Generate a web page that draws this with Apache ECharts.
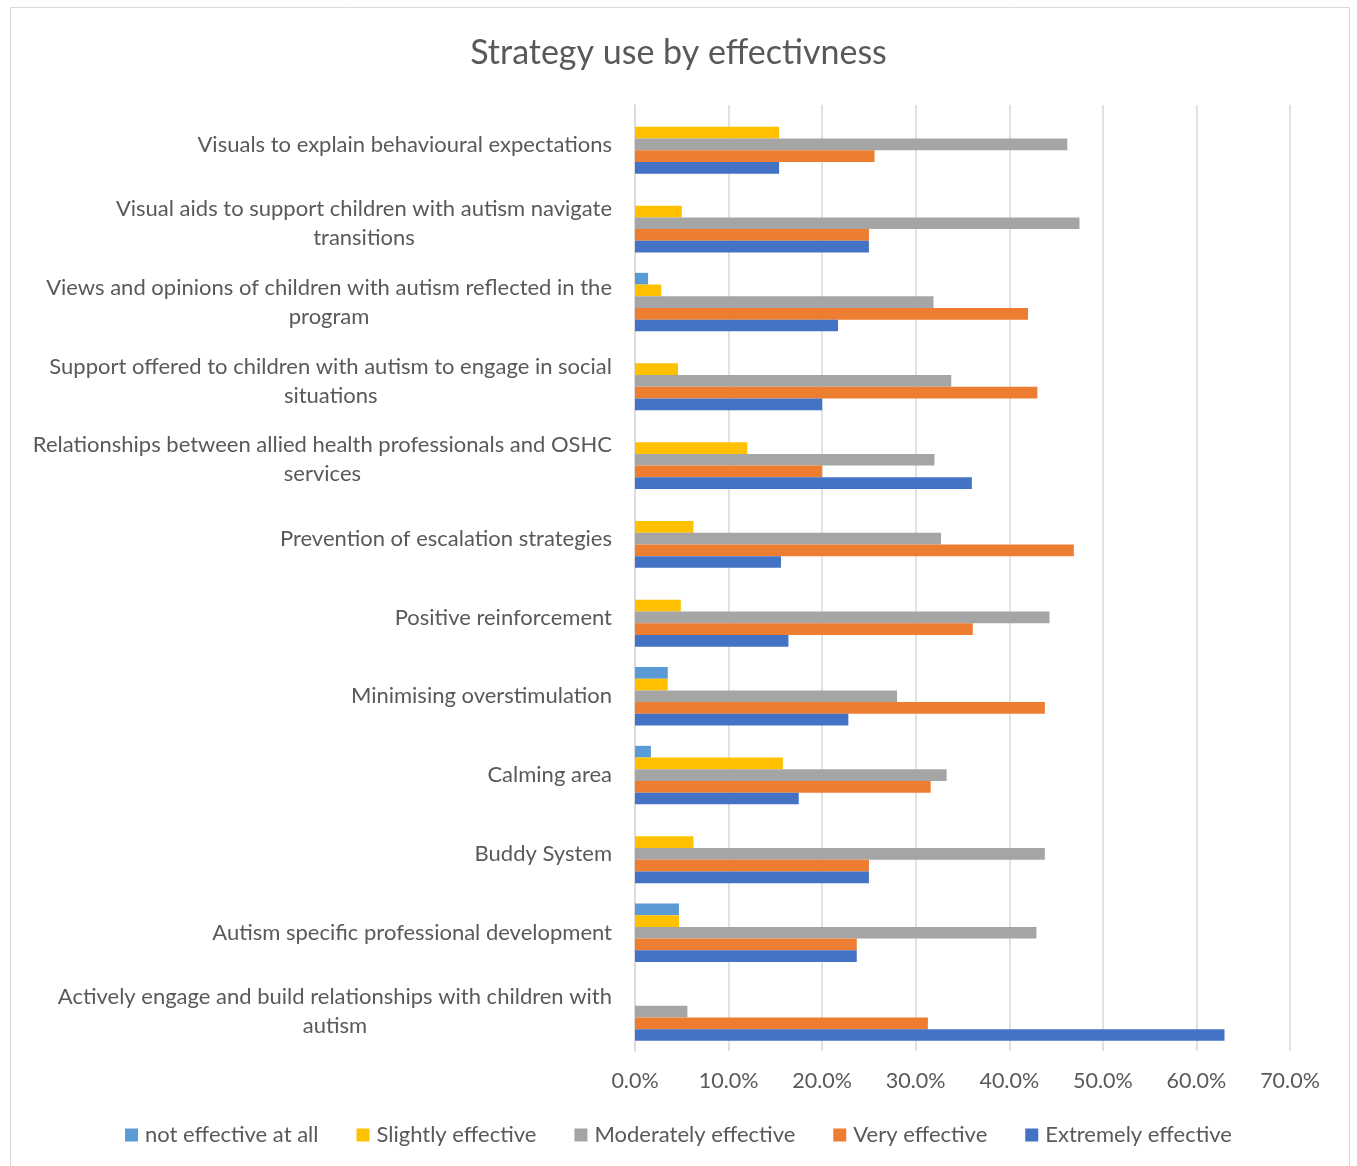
<!DOCTYPE html>
<html>
<head>
<meta charset="utf-8">
<script src="https://cdn.jsdelivr.net/npm/echarts@6/dist/echarts.min.js"></script>
<style>
html,body{margin:0;padding:0;background:#fff;}
#chart{width:1357px;height:1166px;}
</style>
</head>
<body>
<div id="chart"></div>
<script>
const categories = [
  "Visuals to explain behavioural expectations",
  "Visual aids to support children with autism navigate\ntransitions",
  "Views and opinions of children with autism reflected in the\nprogram",
  "Support offered to children with autism to engage in social\nsituations",
  "Relationships between allied health professionals and OSHC\nservices",
  "Prevention of escalation strategies",
  "Positive reinforcement",
  "Minimising overstimulation",
  "Calming area",
  "Buddy System",
  "Autism specific professional development",
  "Actively engage and build relationships with children with\nautism"
];
const seriesNames = ["not effective at all", "Slightly effective", "Moderately effective", "Very effective", "Extremely effective"];
const notEffective = [0, 0, 1.4, 0, 0, 0, 0, 3.5, 1.7, 0, 4.7, 0];
const slightlyEffective = [15.4, 5.0, 2.8, 4.6, 12.0, 6.25, 4.9, 3.5, 15.8, 6.25, 4.7, 0];
const moderatelyEffective = [46.2, 47.5, 31.9, 33.8, 32.0, 32.7, 44.3, 28.0, 33.3, 43.8, 42.9, 5.6];
const veryEffective = [25.6, 25.0, 42.0, 43.0, 20.0, 46.9, 36.1, 43.8, 31.6, 25.0, 23.7, 31.3];
const extremelyEffective = [15.4, 25.0, 21.7, 20.0, 36.0, 15.6, 16.4, 22.8, 17.5, 25.0, 23.7, 63.0];
const xTicks = [0, 10, 20, 30, 40, 50, 60, 70];

const colors = ["#5B9BD5", "#FFC000", "#A5A5A5", "#ED7D31", "#4472C4"];
const values = [notEffective, slightlyEffective, moderatelyEffective, veryEffective, extremelyEffective];
const FONT = "Lato, 'Open Sans', sans-serif";
const TXT = "#595959";

const chart = echarts.init(document.getElementById('chart'));
chart.setOption({
  animation: false,
  color: colors,
  textStyle: {fontFamily: FONT},
  title: {
    text: "Strategy use by effectivness",
    left: 'center',
    top: 31,
    textStyle: {fontFamily: FONT, fontSize: 34, fontWeight: 'normal', color: TXT}
  },
  legend: {
    data: seriesNames,
    top: 1119,
    left: 'center',
    icon: 'rect',
    itemWidth: 13,
    itemHeight: 13,
    itemGap: 38,
    textStyle: {fontFamily: FONT, fontSize: 22, color: TXT, padding: [0,0,0,2]}
  },
  grid: {left: 635, right: 67, top: 105, bottom: 115, containLabel: false},
  xAxis: {
    type: 'value',
    min: xTicks[0],
    max: xTicks[xTicks.length - 1],
    interval: 10,
    axisLine: {show: false},
    axisTick: {show: false},
    splitLine: {lineStyle: {color: '#d9d9d9', width: 1.5}},
    axisLabel: {
      margin: 19,
      fontFamily: FONT, fontSize: 21.5, color: TXT,
      formatter: v => v.toFixed(1) + '%'
    }
  },
  yAxis: {
    type: 'category',
    inverse: true,
    data: categories,
    axisLine: {show: true, lineStyle: {color: '#d9d9d9', width: 1.5}},
    axisTick: {show: false},
    axisLabel: {
      margin: 23,
      align: 'right',
      formatter: v => v.split('\n').map(s => '{c|' + s + '}').join('\n'),
      rich: {c: {align: 'center', fontFamily: FONT, fontSize: 22, color: TXT, lineHeight: 29}}
    }
  },
  graphic: [{
    type: 'rect',
    shape: {x: 10.5, y: 7.5, width: 1339, height: 1170},
    style: {fill: 'none', stroke: '#d9d9d9', lineWidth: 1},
    silent: true
  }],
  series: seriesNames.map((name, i) => ({
    name: name,
    type: 'bar',
    data: values[i],
    barGap: '0%',
    barCategoryGap: '25.8%',
    itemStyle: {color: colors[i]}
  }))
});
</script>
</body>
</html>
